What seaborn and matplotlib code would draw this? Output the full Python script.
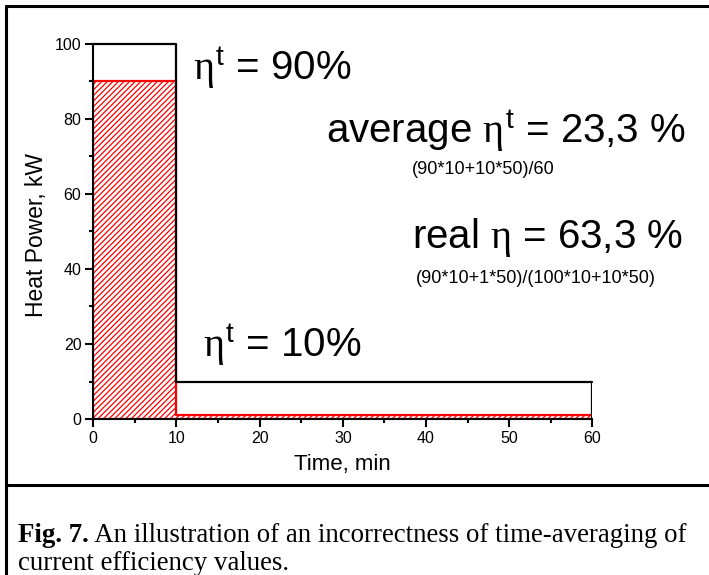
import matplotlib
matplotlib.use("Agg")
import matplotlib.pyplot as plt
import seaborn as sns
import pandas as pd
from matplotlib.lines import Line2D
from matplotlib.ticker import MultipleLocator


#---------- data ----------
time_edges = [0, 10, 60]          # min
heat_power = [100, 10]            # kW, total heat power per interval
useful_power = [90, 1]            # kW, useful part (hatched)
eta_t = [90, 10]                  # %, current efficiency per interval
avg_formula = "(90*10+10*50)/60"
real_formula = "(90*10+1*50)/(100*10+10*50)"
avg_eta = "23,3"
real_eta = "63,3"
caption_bold = "Fig. 7."
caption_rest = " An illustration of an incorrectness of time-averaging of"
caption_line2 = "current efficiency values."


sns.set_style("ticks")
plt.rcParams["font.family"] = ["Liberation Sans", "DejaVu Sans"]
plt.rcParams["mathtext.fontset"] = "custom"
plt.rcParams["mathtext.rm"] = "Liberation Sans"
plt.rcParams["mathtext.it"] = "Liberation Serif"
plt.rcParams["hatch.linewidth"] = 0.9
for k in ["text.color", "axes.labelcolor", "xtick.color", "ytick.color", "axes.edgecolor"]:
    plt.rcParams[k] = "black"

fig = plt.figure(figsize=(7.09, 5.75), dpi=100)
ax = fig.add_axes([0.1316, 0.2713, 0.704, 0.6522])

heat_df = pd.DataFrame({"t": time_edges, "p": heat_power + heat_power[-1:]})
useful_df = pd.DataFrame({"t": time_edges, "p": useful_power + useful_power[-1:]})

# hatched useful part
ax.fill_between(useful_df["t"], useful_df["p"], step="post",
                facecolor="white", edgecolor="red", hatch="//////",
                linewidth=1.6, zorder=2)

# black outline of total heat power
sns.lineplot(data=heat_df, x="t", y="p", drawstyle="steps-post",
             color="black", linewidth=1.6, estimator=None, ax=ax,
             zorder=3, clip_on=False)
ax.vlines(time_edges[-1], 0, heat_power[-1], color="black", linewidth=1.6, zorder=3)

ax.set_xlim(time_edges[0], time_edges[-1])
ax.set_ylim(0, heat_power[0])
ax.xaxis.set_major_locator(MultipleLocator(10))
ax.xaxis.set_minor_locator(MultipleLocator(5))
ax.yaxis.set_major_locator(MultipleLocator(20))
ax.yaxis.set_minor_locator(MultipleLocator(10))
ax.tick_params(which="major", direction="out", length=5.5, width=1.5, labelsize=11.5, pad=3)
ax.tick_params(which="minor", direction="out", length=3, width=1.5)
sns.despine(ax=ax)
for s in ["left", "bottom"]:
    ax.spines[s].set_linewidth(1.5)

ax.set_xlabel("Time, min", fontsize=16, labelpad=6)
ax.set_ylabel("Heat Power, kW", fontsize=16.5)
ax.yaxis.set_label_coords(-0.09, 0.49)

big = 29
ax.text(12.0, 90.4, r"$\eta^{\mathrm{t}}$ = %d%%" % eta_t[0], fontsize=big, va="baseline")
ax.text(13.2, 16.5, r"$\eta^{\mathrm{t}}$ = %d%%" % eta_t[1], fontsize=big, va="baseline")
ax.text(71.2, 73.6, r"average $\eta^{\mathrm{t}}$ = %s %%" % avg_eta, fontsize=big,
        va="baseline", ha="right", clip_on=False)
ax.text(38.3, 65.3, avg_formula, fontsize=13, va="baseline")
ax.text(70.9, 45.6, r"real $\eta$ = %s %%" % real_eta, fontsize=big,
        va="baseline", ha="right", clip_on=False)
ax.text(38.8, 36.3, real_formula, fontsize=13, va="baseline")

# frame round the figure and divider above the caption
W, H = 709, 575
lw = 2.2
fig.add_artist(Line2D([6 / W, 6 / W], [0, 1 - 6 / H], color="black", lw=lw))
fig.add_artist(Line2D([6 / W, 1], [1 - 6 / H, 1 - 6 / H], color="black", lw=lw))
fig.add_artist(Line2D([6 / W, 1], [1 - 485 / H, 1 - 485 / H], color="black", lw=lw))

# caption
cap_size = 19.4
t1 = fig.text(18 / W, 1 - 542 / H, caption_bold, fontsize=cap_size, fontweight="bold",
              family=["Liberation Serif"], va="baseline")
fig.canvas.draw()
bb = t1.get_window_extent()
fig.text(bb.x1 / W, 1 - 542 / H, caption_rest, fontsize=cap_size,
         family=["Liberation Serif"], va="baseline")
fig.text(18 / W, 1 - 570 / H, caption_line2, fontsize=cap_size,
         family=["Liberation Serif"], va="baseline")

plt.savefig("out.png", dpi=100)
